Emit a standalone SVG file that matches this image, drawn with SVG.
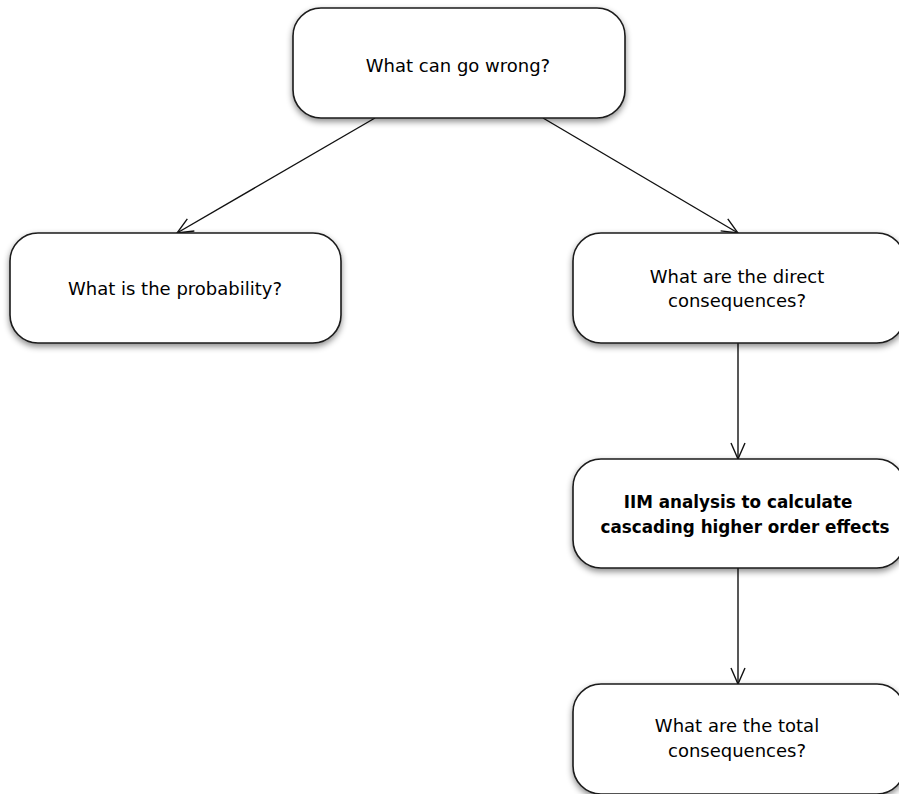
<svg xmlns="http://www.w3.org/2000/svg" width="899" height="794" viewBox="0 0 899 794">
  <defs>
    <filter id="shadow" x="-10%" y="-10%" width="120%" height="140%">
      <feDropShadow dx="0" dy="3" stdDeviation="3" flood-color="#000" flood-opacity="0.45"/>
    </filter>
    <marker id="arrow" viewBox="0 0 20 20" refX="18" refY="10" markerWidth="20" markerHeight="20" markerUnits="userSpaceOnUse" orient="auto">
      <path d="M2,3 L18,10 L2,17" fill="none" stroke="#111" stroke-width="1.4"/>
    </marker>
    <style>
      .box { fill: #fff; stroke: #1a1a1a; stroke-width: 1.6; filter: url(#shadow); }
      .label { font-family: "DejaVu Sans", "Liberation Sans", sans-serif; font-size: 18px; fill: #000; text-anchor: middle; }
      .bold { font-weight: bold; font-size: 16.8px; }
      .edge { fill: none; stroke: #111; stroke-width: 1.4; marker-end: url(#arrow); }
    </style>
  </defs>

  <!-- connectors -->
  <g id="connectors">
    <line class="edge" x1="375" y1="118" x2="177" y2="233"/>
    <line class="edge" x1="543" y1="118" x2="738" y2="233"/>
    <line class="edge" x1="738" y1="343" x2="738" y2="459"/>
    <line class="edge" x1="738" y1="568" x2="738" y2="684"/>
  </g>

  <!-- root question -->
  <g id="node-wrong">
    <rect class="box" x="293" y="8" width="332" height="110" rx="28" ry="28"/>
    <text class="label" x="458" y="72">What can go wrong?</text>
  </g>

  <g id="node-probability">
    <rect class="box" x="10" y="233" width="331" height="110" rx="28" ry="28"/>
    <text class="label" x="175" y="295">What is the probability?</text>
  </g>

  <g id="node-direct">
    <rect class="box" x="573" y="233" width="332" height="110" rx="28" ry="28"/>
    <text class="label" x="737" y="283">What are the direct</text>
    <text class="label" x="737" y="307">consequences?</text>
  </g>

  <g id="node-iim">
    <rect class="box" x="573" y="459" width="332" height="109" rx="28" ry="28"/>
    <text class="label bold" x="738" y="508">IIM analysis to calculate</text>
    <text class="label bold" x="745" y="533">cascading higher order effects</text>
  </g>

  <g id="node-total">
    <rect class="box" x="573" y="684" width="332" height="110" rx="28" ry="28"/>
    <text class="label" x="737" y="732">What are the total</text>
    <text class="label" x="737" y="757">consequences?</text>
  </g>
</svg>
